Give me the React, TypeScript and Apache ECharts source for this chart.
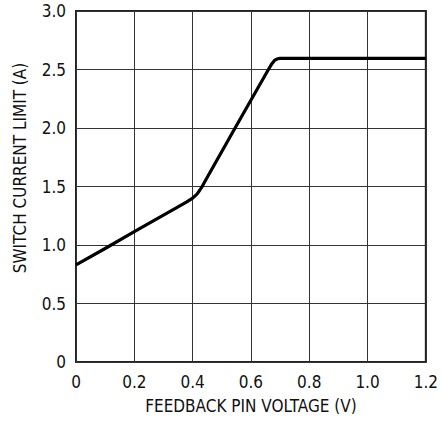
import React, { useEffect, useRef } from "react";
import * as echarts from "echarts";

const xTitle = "FEEDBACK PIN VOLTAGE (V)";
const yTitle = "SWITCH CURRENT LIMIT (A)";
const voltage = [0, 0.1, 0.2, 0.3, 0.35, 0.38, 0.4, 0.415, 0.425, 0.435, 0.445, 0.55, 0.66, 0.672, 0.682, 0.692, 0.7, 1.2];
const current = [0.83, 0.97, 1.115, 1.255, 1.325, 1.368, 1.4, 1.435, 1.47, 1.51, 1.555, 2.02, 2.5, 2.55, 2.58, 2.592, 2.595, 2.595];

const FONT = "'Liberation Sans Narrow', 'DejaVu Sans Condensed', 'Liberation Sans', sans-serif";

export default function App() {
  const ref = useRef<HTMLDivElement>(null);
  useEffect(() => {
    if (!ref.current) return;
    const chart = echarts.init(ref.current, null, { renderer: "svg" });
    const data = voltage.map((v, i) => [v, current[i]]);
    chart.setOption({
      animation: false,
      backgroundColor: "#fff",
      grid: {
        left: 76,
        right: 13,
        top: 11,
        bottom: 59,
        show: true,
        borderColor: "#222",
        borderWidth: 2,
        backgroundColor: "transparent",
      },
      xAxis: {
        type: "value",
        min: 0,
        max: 1.2,
        interval: 0.2,
        name: xTitle,
        nameLocation: "middle",
        nameGap: 35,
        nameTextStyle: { fontFamily: FONT, fontSize: 17, color: "#111" },
        axisLine: { show: false },
        axisTick: { show: false },
        axisLabel: {
          fontFamily: FONT,
          fontSize: 17,
          color: "#111",
          margin: 11,
          formatter: (v: number) => (v === 0 ? "0" : v.toFixed(1)),
        },
        splitLine: { show: true, lineStyle: { color: "#333", width: 1 } },
      },
      yAxis: {
        type: "value",
        min: 0,
        max: 3,
        interval: 0.5,
        axisLine: { show: false },
        axisTick: { show: false },
        axisLabel: {
          fontFamily: FONT,
          fontSize: 17,
          color: "#111",
          margin: 10,
          formatter: (v: number) => (v === 0 ? "0" : v.toFixed(1)),
        },
        splitLine: { show: true, lineStyle: { color: "#333", width: 1 } },
      },
      graphic: [
        {
          type: "text",
          x: 20,
          y: 168,
          rotation: Math.PI / 2,
          style: {
            text: yTitle,
            fontFamily: FONT,
            fontSize: 17,
            fill: "#111",
            align: "center",
            verticalAlign: "middle",
          },
        },
      ],
      series: [
        {
          type: "line",
          data,
          showSymbol: false,
          smooth: false,
          lineStyle: { color: "#000", width: 3.2, join: "round" },
        },
      ],
    });
    return () => chart.dispose();
  }, []);
  return (
    <div
      ref={ref}
      style={{ position: "absolute", left: 0, top: 0, width: 441, height: 421 }}
    />
  );
}
